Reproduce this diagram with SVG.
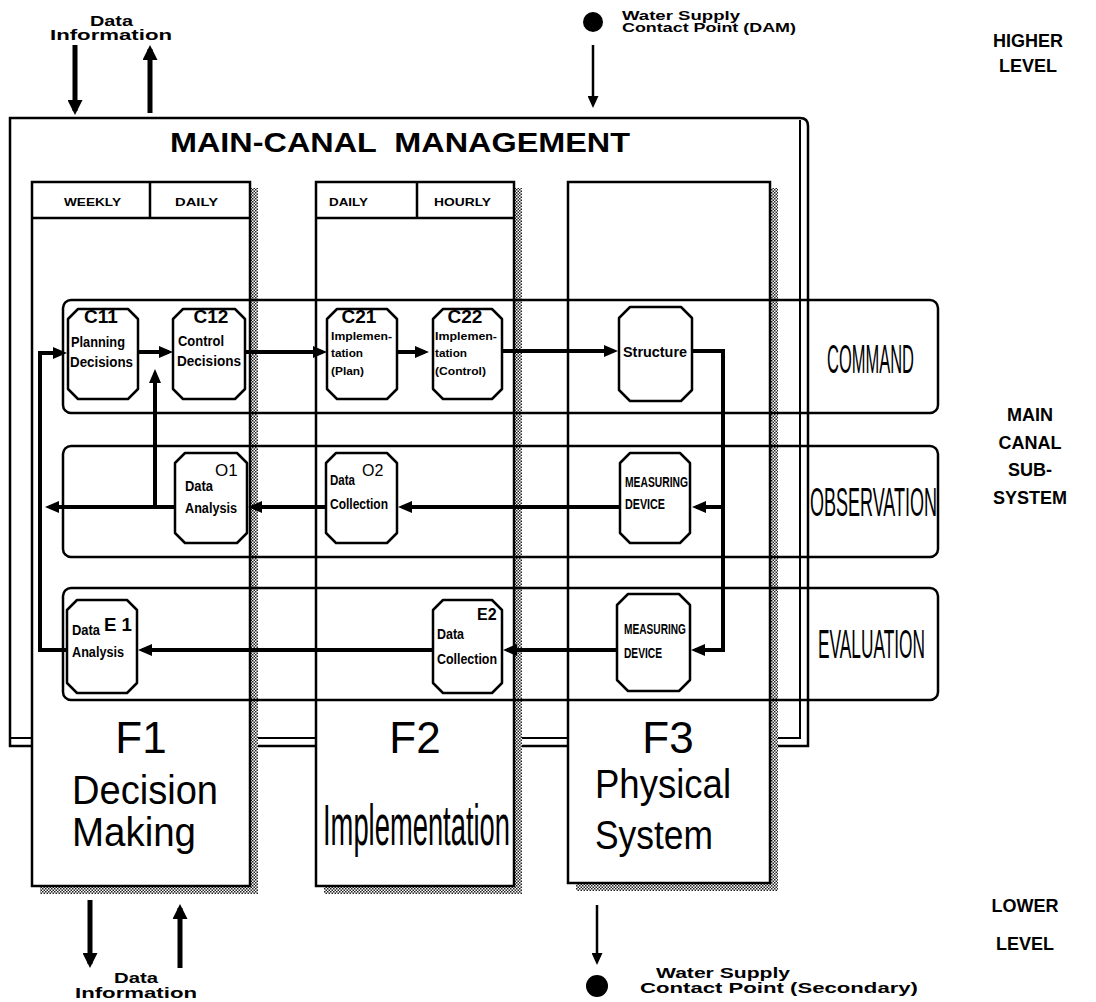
<svg xmlns="http://www.w3.org/2000/svg" width="1096" height="1002" viewBox="0 0 1096 1002">
<defs>
<style>
text{font-family:"Liberation Sans",Arial,sans-serif;fill:#000}
.b{font-weight:bold}
.col{fill:#fff;stroke:#000;stroke-width:2.5}
.sh{fill:url(#hatch);stroke:none}
.row{fill:none;stroke:#000;stroke-width:2.5}
.node{fill:#fff;stroke:#000;stroke-width:2.5;stroke-linejoin:round}
.con{fill:none;stroke:#000;stroke-width:4}
.big{fill:none;stroke:#000;stroke-width:5}
.thin{fill:none;stroke:#000;stroke-width:2.5}
.code{font-weight:bold;font-size:19px}
.nt{font-weight:bold;font-size:14px}
.st{font-weight:bold;font-size:11px}
.lbl{font-size:40px}
.fl{font-size:44px;text-anchor:middle}
.side{font-weight:bold;font-size:18px;text-anchor:middle}
.hdr{font-weight:bold;font-size:11px}
.note{font-weight:bold;font-size:15px}
</style>
<pattern id="hatch" width="3" height="3" patternUnits="userSpaceOnUse">
<rect width="3" height="3" fill="#fff"/>
<rect width="1.5" height="1.5" fill="#222"/>
<rect x="1.5" y="1.5" width="1.5" height="1.5" fill="#222"/>
</pattern>
<marker id="a" markerUnits="userSpaceOnUse" markerWidth="14" markerHeight="12" refX="10" refY="6" orient="auto"><path d="M0,0 L14,6 L0,12 Z" fill="#000"/></marker>
<marker id="bg" markerUnits="userSpaceOnUse" markerWidth="15" markerHeight="15" refX="11" refY="7.5" orient="auto"><path d="M0,0 L15,7.5 L0,15 Z" fill="#000"/></marker>
<marker id="sm" markerUnits="userSpaceOnUse" markerWidth="12" markerHeight="11" refX="8" refY="5.5" orient="auto"><path d="M0,0 L12,5.5 L0,11 Z" fill="#000"/></marker>
</defs>
<rect width="1096" height="1002" fill="#fff"/>

<g id="external-top">
<text class="note" x="90" y="26" textLength="43" lengthAdjust="spacingAndGlyphs">Data</text>
<text class="note" x="50" y="40" textLength="122" lengthAdjust="spacingAndGlyphs">Information</text>
<circle cx="593" cy="22" r="10" fill="#000"/>
<text class="b" x="622" y="20" font-size="13" textLength="118" lengthAdjust="spacingAndGlyphs">Water Supply</text>
<text class="b" x="622" y="32" font-size="13" textLength="174" lengthAdjust="spacingAndGlyphs">Contact Point (DAM)</text>
<text class="side" x="1028" y="47">HIGHER</text>
<text class="side" x="1028" y="72">LEVEL</text>
</g>

<g id="main-canal-management">
<path d="M10,118 H800 Q808,118 808,126 V746 H10 Z" fill="#fff" stroke="#000" stroke-width="2.5"/>
<path d="M800,120 V738 H10" fill="none" stroke="#000" stroke-width="2"/>
<text class="b" x="170" y="152" font-size="28" textLength="460" lengthAdjust="spacingAndGlyphs" xml:space="preserve">MAIN-CANAL  MANAGEMENT</text>
</g>

<g id="F1">
<rect class="sh" x="250" y="188" width="8" height="706"/>
<rect class="sh" x="40" y="886" width="218" height="8"/>
<rect class="col" x="32" y="182" width="218" height="704"/>
<path d="M32,218 H250 M150,182 V218" stroke="#000" stroke-width="2.5" fill="none"/>
<text class="hdr" x="64" y="206" textLength="57" lengthAdjust="spacingAndGlyphs">WEEKLY</text>
<text class="hdr" x="175" y="206" textLength="43" lengthAdjust="spacingAndGlyphs">DAILY</text>
<text class="fl" x="141" y="753">F1</text>
<text class="lbl" x="72" y="804" textLength="146" lengthAdjust="spacingAndGlyphs">Decision</text>
<text class="lbl" x="72" y="846" textLength="124" lengthAdjust="spacingAndGlyphs">Making</text>
</g>

<g id="F2">
<rect class="sh" x="514" y="188" width="8" height="706"/>
<rect class="sh" x="324" y="886" width="198" height="8"/>
<rect class="col" x="316" y="182" width="198" height="704"/>
<path d="M316,218 H514 M417,182 V218" stroke="#000" stroke-width="2.5" fill="none"/>
<text class="hdr" x="329" y="206" textLength="39" lengthAdjust="spacingAndGlyphs">DAILY</text>
<text class="hdr" x="434" y="206" textLength="57" lengthAdjust="spacingAndGlyphs">HOURLY</text>
<text class="fl" x="415" y="753">F2</text>
<text x="323" y="845" font-size="58" textLength="187" lengthAdjust="spacingAndGlyphs">Implementation</text>
</g>

<g id="F3">
<rect class="sh" x="770" y="188" width="8" height="703"/>
<rect class="sh" x="576" y="883" width="202" height="8"/>
<rect class="col" x="568" y="182" width="202" height="701"/>
<text class="fl" x="668" y="753">F3</text>
<text class="lbl" x="595" y="798" textLength="136" lengthAdjust="spacingAndGlyphs">Physical</text>
<text class="lbl" x="595" y="849" textLength="118" lengthAdjust="spacingAndGlyphs">System</text>
</g>

<g id="row-command">
<rect class="row" x="63" y="300" width="875" height="113" rx="8"/>
<text class="lbl" x="827" y="373" textLength="87" lengthAdjust="spacingAndGlyphs">COMMAND</text>
</g>
<g id="row-observation">
<rect class="row" x="63" y="446" width="875" height="111" rx="8"/>
<text class="lbl" x="810" y="516" textLength="127" lengthAdjust="spacingAndGlyphs">OBSERVATION</text>
</g>
<g id="row-evaluation">
<rect class="row" x="63" y="588" width="875" height="112" rx="8"/>
<text class="lbl" x="818" y="658" textLength="107" lengthAdjust="spacingAndGlyphs">EVALUATION</text>
</g>

<g id="side-labels">
<text class="side" x="1030" y="421">MAIN</text>
<text class="side" x="1030" y="449">CANAL</text>
<text class="side" x="1030" y="476">SUB-</text>
<text class="side" x="1030" y="504">SYSTEM</text>
<text class="side" x="1025" y="912">LOWER</text>
<text class="side" x="1025" y="950">LEVEL</text>
</g>

<g id="C11">
<path class="node" d="M78,309 H128 L138,319 V389 L128,399 H78 L68,389 V319 Z"/>
<text class="code" x="101" y="323" text-anchor="middle">C11</text>
<text class="nt" x="71" y="347" textLength="54" lengthAdjust="spacingAndGlyphs">Planning</text>
<text class="nt" x="70" y="367" textLength="63" lengthAdjust="spacingAndGlyphs">Decisions</text>
</g>
<g id="C12">
<path class="node" d="M183,309 H235 L245,319 V389 L235,399 H183 L173,389 V319 Z"/>
<text class="code" x="211" y="323" text-anchor="middle">C12</text>
<text class="nt" x="178" y="346" textLength="46" lengthAdjust="spacingAndGlyphs">Control</text>
<text class="nt" x="177" y="366" textLength="64" lengthAdjust="spacingAndGlyphs">Decisions</text>
</g>
<g id="C21">
<path class="node" d="M337,309 H387 L397,319 V389 L387,399 H337 L327,389 V319 Z"/>
<text class="code" x="359" y="323" text-anchor="middle">C21</text>
<text class="st" x="331" y="340" textLength="61" lengthAdjust="spacingAndGlyphs">Implemen-</text>
<text class="st" x="331" y="357" textLength="32" lengthAdjust="spacingAndGlyphs">tation</text>
<text class="st" x="331" y="375" textLength="33" lengthAdjust="spacingAndGlyphs">(Plan)</text>
</g>
<g id="C22">
<path class="node" d="M443,309 H492 L502,319 V389 L492,399 H443 L433,389 V319 Z"/>
<text class="code" x="465" y="323" text-anchor="middle">C22</text>
<text class="st" x="435" y="340" textLength="62" lengthAdjust="spacingAndGlyphs">Implemen-</text>
<text class="st" x="435" y="357" textLength="32" lengthAdjust="spacingAndGlyphs">tation</text>
<text class="st" x="435" y="375" textLength="51" lengthAdjust="spacingAndGlyphs">(Control)</text>
</g>
<g id="Structure">
<path class="node" d="M630,307 H681 L692,318 V390 L681,401 H630 L619,390 V318 Z"/>
<text class="nt" x="623" y="357" font-size="12" textLength="64" lengthAdjust="spacingAndGlyphs">Structure</text>
</g>
<g id="O1">
<path class="node" d="M185,453 H237 L247,463 V533 L237,543 H185 L175,533 V463 Z"/>
<text x="215" y="476" font-size="17">O1</text>
<text class="nt" x="185" y="491" textLength="28" lengthAdjust="spacingAndGlyphs">Data</text>
<text class="nt" x="185" y="513" textLength="52" lengthAdjust="spacingAndGlyphs">Analysis</text>
</g>
<g id="O2">
<path class="node" d="M336,453 H387 L397,463 V533 L387,543 H336 L326,533 V463 Z"/>
<text x="362" y="476" font-size="16">O2</text>
<text class="nt" x="330" y="485" textLength="25" lengthAdjust="spacingAndGlyphs">Data</text>
<text class="nt" x="330" y="509" textLength="58" lengthAdjust="spacingAndGlyphs">Collection</text>
</g>
<g id="MD-observation">
<path class="node" d="M630,453 H680 L690,463 V533 L680,543 H630 L620,533 V463 Z"/>
<text class="nt" x="625" y="487" font-size="13" textLength="63" lengthAdjust="spacingAndGlyphs">MEASURING</text>
<text class="nt" x="625" y="509" font-size="13" textLength="40" lengthAdjust="spacingAndGlyphs">DEVICE</text>
</g>
<g id="E1">
<path class="node" d="M77,600 H127 L137,610 V683 L127,693 H77 L67,683 V610 Z"/>
<text class="nt" x="72" y="635" font-size="13" textLength="28" lengthAdjust="spacingAndGlyphs">Data</text>
<text class="b" x="104" y="631" font-size="19" textLength="28" lengthAdjust="spacingAndGlyphs">E 1</text>
<text class="nt" x="72" y="657" font-size="13" textLength="52" lengthAdjust="spacingAndGlyphs">Analysis</text>
</g>
<g id="E2">
<path class="node" d="M443,600 H492 L502,610 V683 L492,693 H443 L433,683 V610 Z"/>
<text class="b" x="477" y="620" font-size="16">E2</text>
<text class="nt" x="437" y="639" font-size="13" textLength="27" lengthAdjust="spacingAndGlyphs">Data</text>
<text class="nt" x="437" y="664" font-size="13" textLength="60" lengthAdjust="spacingAndGlyphs">Collection</text>
</g>
<g id="MD-evaluation">
<path class="node" d="M628,594 H679 L690,605 V680 L679,691 H628 L617,680 V605 Z"/>
<text class="nt" x="624" y="634" font-size="13" textLength="62" lengthAdjust="spacingAndGlyphs">MEASURING</text>
<text class="nt" x="624" y="658" font-size="13" textLength="38" lengthAdjust="spacingAndGlyphs">DEVICE</text>
</g>

<g id="external-bottom">
<text class="note" x="114" y="983" textLength="44" lengthAdjust="spacingAndGlyphs">Data</text>
<text class="note" x="75" y="998" textLength="122" lengthAdjust="spacingAndGlyphs">Information</text>
<circle cx="597" cy="986" r="11" fill="#000"/>
<text class="b" x="656" y="978" font-size="14" textLength="134" lengthAdjust="spacingAndGlyphs">Water Supply</text>
<text class="b" x="640" y="993" font-size="14" textLength="278" lengthAdjust="spacingAndGlyphs">Contact Point (Secondary)</text>
</g>

<g id="connectors">
<path class="big" d="M75,45 V111" marker-end="url(#bg)"/>
<path class="big" d="M150,113 V49" marker-end="url(#bg)"/>
<path class="thin" d="M593,45 V104" marker-end="url(#sm)"/>
<path class="big" d="M90,900 V964" marker-end="url(#bg)"/>
<path class="big" d="M180,968 V908" marker-end="url(#bg)"/>
<path class="thin" d="M597,905 V961" marker-end="url(#sm)"/>
<path class="con" d="M138,352 H169" marker-end="url(#a)"/>
<path class="con" d="M155,508 V373" marker-end="url(#a)"/>
<path class="con" d="M245,352 H323" marker-end="url(#a)"/>
<path class="con" d="M398,352 H425" marker-end="url(#a)"/>
<path class="con" d="M503,351 H614" marker-end="url(#a)"/>
<path class="con" d="M692,351 H723 V650 H695" marker-end="url(#a)"/>
<path class="con" d="M723,507 H696" marker-end="url(#a)"/>
<path class="con" d="M620,507 H402" marker-end="url(#a)"/>
<path class="con" d="M326,507 H252" marker-end="url(#a)"/>
<path class="con" d="M175,507 H49" marker-end="url(#a)"/>
<path class="con" d="M617,650 H507" marker-end="url(#a)"/>
<path class="con" d="M433,650 H142" marker-end="url(#a)"/>
<path class="con" d="M67,650 H40 V353 H63" marker-end="url(#a)"/>
</g>
</svg>
